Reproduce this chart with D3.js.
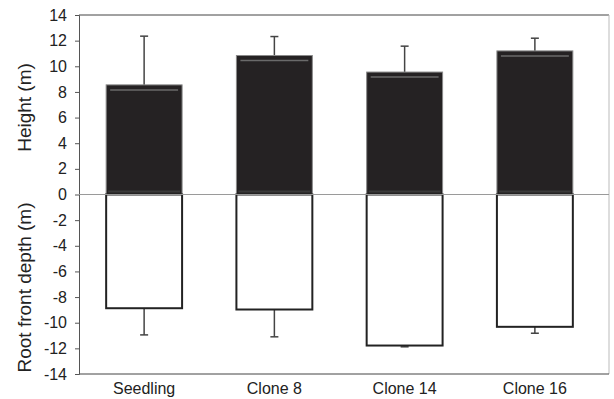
<!DOCTYPE html>
<html><head><meta charset="utf-8">
<script src="https://cdn.jsdelivr.net/npm/d3@7"></script>
<style>body{margin:0;background:#fff}svg{display:block;font-family:"Liberation Sans",Arial,sans-serif}</style>
</head><body><svg id="c" width="614" height="399"></svg>
<script>
const categories = ["Seedling", "Clone 8", "Clone 14", "Clone 16"];
const heightValues = [8.55, 10.84, 9.55, 11.2];
const heightErrors = [3.8, 1.48, 2.02, 0.99];
const depthValues = [-8.87, -8.97, -11.78, -10.32];
const depthErrors = [2.08, 2.13, 0.1, 0.5];
const yTicks = [-14,-12,-10,-8,-6,-4,-2,0,2,4,6,8,10,12,14];

(function () {
const svg = d3.select("#c");
const pL = 79, pR = 609, pT = 15, pB = 374;
const y = d3.scaleLinear().domain([-14, 14]).range([pB, pT]);
const x = d3.scaleBand().domain(categories).range([pL, 600]).paddingInner(0.417).paddingOuter(0.2085);

// frame
svg.append("line").attr("x1", pL).attr("x2", pR).attr("y1", pT).attr("y2", pT).attr("stroke", "#444").attr("stroke-width", 1);
svg.append("line").attr("x1", pR).attr("x2", pR).attr("y1", pT).attr("y2", pB).attr("stroke", "#bbb").attr("stroke-width", 1);
svg.append("line").attr("x1", pL).attr("x2", pR).attr("y1", pB).attr("y2", pB).attr("stroke", "#444").attr("stroke-width", 1);

// y axis
const yAxis = d3.axisLeft(y).tickValues(yTicks).tickSize(4).tickPadding(8).tickFormat(d3.format("d"));
const ga = svg.append("g").attr("transform", `translate(${pL},0)`).call(yAxis);
ga.select(".domain").attr("stroke", "#555");
ga.selectAll(".tick line").attr("stroke", "#555");
ga.selectAll("text").attr("font-size", 16).attr("fill", "#222").attr("font-family", "Liberation Sans, Arial, sans-serif").text(d => d < 0 ? "-" + Math.abs(d) : d);

const hx = (d, i) => x(categories[i]);
const bw = x.bandwidth();

// height bars
svg.selectAll(".herr").data(heightValues).join("line")
  .attr("x1", (d, i) => hx(d, i) + bw / 2).attr("x2", (d, i) => hx(d, i) + bw / 2)
  .attr("y1", d => y(d)).attr("y2", (d, i) => y(d + heightErrors[i]))
  .attr("stroke", "#444").attr("stroke-width", 1.5);
svg.selectAll(".hcap").data(heightValues).join("line")
  .attr("x1", (d, i) => hx(d, i) + bw / 2 - 4).attr("x2", (d, i) => hx(d, i) + bw / 2 + 4)
  .attr("y1", (d, i) => y(d + heightErrors[i])).attr("y2", (d, i) => y(d + heightErrors[i]))
  .attr("stroke", "#444").attr("stroke-width", 1.5);
svg.selectAll(".hbar").data(heightValues).join("rect")
  .attr("x", hx).attr("width", bw)
  .attr("y", d => y(d)).attr("height", d => y(0) - y(d))
  .attr("fill", "#252223").attr("stroke", "#8a8a8a").attr("stroke-width", 1);
svg.selectAll(".hhl").data(heightValues).join("line")
  .attr("x1", (d, i) => hx(d, i) + 4).attr("x2", (d, i) => hx(d, i) + bw - 4)
  .attr("y1", d => y(d) + 5).attr("y2", d => y(d) + 5)
  .attr("stroke", "#6a6a6a").attr("stroke-width", 1.5);
svg.selectAll(".hbl").data(heightValues).join("line")
  .attr("x1", (d, i) => hx(d, i) + 2).attr("x2", (d, i) => hx(d, i) + bw - 2)
  .attr("y1", y(0) - 3).attr("y2", y(0) - 3)
  .attr("stroke", "#3a3a3a").attr("stroke-width", 2);

// depth bars
svg.selectAll(".derr").data(depthValues).join("line")
  .attr("x1", (d, i) => hx(d, i) + bw / 2).attr("x2", (d, i) => hx(d, i) + bw / 2)
  .attr("y1", d => y(d)).attr("y2", (d, i) => y(d - depthErrors[i]))
  .attr("stroke", "#444").attr("stroke-width", 1.5);
svg.selectAll(".dcap").data(depthValues).join("line")
  .attr("x1", (d, i) => hx(d, i) + bw / 2 - 4).attr("x2", (d, i) => hx(d, i) + bw / 2 + 4)
  .attr("y1", (d, i) => y(d - depthErrors[i])).attr("y2", (d, i) => y(d - depthErrors[i]))
  .attr("stroke", "#444").attr("stroke-width", 1.5);
svg.selectAll(".dbar").data(depthValues).join("rect")
  .attr("x", hx).attr("width", bw)
  .attr("y", y(0)).attr("height", d => y(d) - y(0))
  .attr("fill", "#fff").attr("stroke", "#222").attr("stroke-width", 2);

// zero line
svg.append("line").attr("x1", pL).attr("x2", pR).attr("y1", y(0)).attr("y2", y(0)).attr("stroke", "#9a9a9a").attr("stroke-width", 1.2);

// x labels
svg.selectAll(".xl").data(categories).join("text")
  .attr("x", d => x(d) + bw / 2).attr("y", 394).attr("text-anchor", "middle")
  .attr("font-size", 16).attr("fill", "#222").text(d => d);

// y titles
svg.append("text").attr("transform", `translate(31,107.5) rotate(-90)`).attr("text-anchor", "middle")
  .attr("font-size", 19).attr("fill", "#222").text("Height (m)");
svg.append("text").attr("transform", `translate(31,287.5) rotate(-90)`).attr("text-anchor", "middle")
  .attr("font-size", 19).attr("fill", "#222").text("Root front depth (m)");
})();
</script></body></html>
